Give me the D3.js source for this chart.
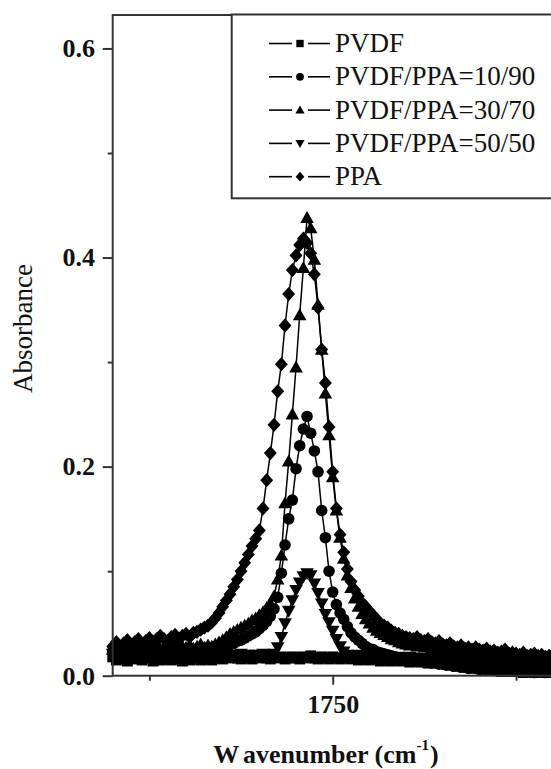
<!DOCTYPE html>
<html><head><meta charset="utf-8">
<script src="https://cdn.jsdelivr.net/npm/d3@7"></script>
<style>html,body{margin:0;padding:0;background:#fff;} svg{display:block}</style>
</head><body><svg id="chart" width="551" height="769"></svg>
<script>
// ---------- data ----------
const wavenumbers = [
1690,1691,1692,1693,1694,1695,1696,1697,1698,1699,
1700,1701,1702,1703,1704,1705,1706,1707,1708,1709,
1710,1711,1712,1713,1714,1715,1716,1717,1718,1719,
1720,1721,1722,1723,1724,1725,1726,1727,1728,1729,
1730,1731,1732,1733,1734,1735,1736,1737,1738,1739,
1740,1741,1742,1743,1744,1745,1746,1747,1748,1749,
1750,1751,1752,1753,1754,1755,1756,1757,1758,1759,
1760,1761,1762,1763,1764,1765,1766,1767,1768,1769,
1770,1771,1772,1773,1774,1775,1776,1777,1778,1779,
1780,1781,1782,1783,1784,1785,1786,1787,1788,1789,
1790,1791,1792,1793,1794,1795,1796,1797,1798,1799,
1800,1801,1802,1803,1804,1805,1806,1807,1808,1809,1810];

const seriesNames = ["PVDF", "PVDF/PPA=10/90", "PVDF/PPA=30/70", "PVDF/PPA=50/50", "PPA"];
const seriesSymbols = ["square", "circle", "triangleUp", "triangleDown", "diamond"];

const absPVDF = [
0.018,0.015,0.019,0.016,0.014,0.018,0.016,0.019,0.015,0.018,
0.017,0.014,0.018,0.015,0.019,0.016,0.015,0.018,0.016,0.014,
0.018,0.015,0.017,0.019,0.015,0.018,0.016,0.015,0.018,0.017,
0.016,0.018,0.017,0.019,0.017,0.016,0.018,0.017,0.016,0.018,
0.017,0.019,0.017,0.016,0.018,0.017,0.018,0.016,0.017,0.018,
0.017,0.016,0.018,0.017,0.019,0.017,0.016,0.018,0.017,0.016,
0.018,0.017,0.016,0.017,0.018,0.016,0.017,0.015,0.017,0.016,
0.015,0.017,0.016,0.014,0.016,0.015,0.014,0.016,0.015,0.014,
0.015,0.013,0.014,0.015,0.013,0.014,0.012,0.014,0.013,0.012,
0.013,0.011,0.012,0.010,0.011,0.009,0.010,0.008,0.009,0.007,
0.008,0.006,0.007,0.005,0.006,0.005,0.004,0.006,0.005,0.004,
0.005,0.004,0.003,0.005,0.004,0.003,0.004,0.005,0.003,0.004,0.003];

const abs10_90 = [
0.023,0.026,0.021,0.024,0.027,0.022,0.025,0.021,0.024,0.023,
0.026,0.022,0.027,0.024,0.021,0.025,0.023,0.027,0.022,0.025,
0.024,0.026,0.025,0.023,0.026,0.025,0.027,0.026,0.028,0.027,
0.027,0.028,0.030,0.031,0.033,0.034,0.036,0.038,0.040,0.042,
0.045,0.048,0.052,0.057,0.064,0.075,0.098,0.125,0.150,0.168,
0.198,0.220,0.236,0.248,0.232,0.215,0.195,0.158,0.132,0.100,
0.080,0.068,0.060,0.054,0.047,0.041,0.037,0.034,0.031,0.028,
0.026,0.025,0.023,0.022,0.021,0.020,0.019,0.018,0.017,0.016,
0.017,0.015,0.016,0.014,0.015,0.013,0.014,0.012,0.013,0.011,
0.012,0.010,0.011,0.009,0.010,0.008,0.009,0.007,0.008,0.007,
0.006,0.008,0.006,0.007,0.005,0.006,0.005,0.007,0.005,0.006,
0.005,0.004,0.006,0.004,0.005,0.003,0.005,0.004,0.003,0.005,0.004];

const abs30_70 = [
0.025,0.028,0.023,0.026,0.029,0.024,0.027,0.023,0.026,0.029,
0.024,0.027,0.030,0.025,0.028,0.024,0.027,0.030,0.025,0.028,
0.027,0.029,0.026,0.028,0.030,0.027,0.029,0.028,0.030,0.032,
0.034,0.037,0.040,0.042,0.044,0.046,0.048,0.050,0.053,0.055,
0.058,0.061,0.065,0.069,0.076,0.092,0.115,0.165,0.205,0.250,
0.295,0.345,0.390,0.438,0.428,0.398,0.355,0.312,0.270,0.230,
0.190,0.158,0.132,0.112,0.096,0.084,0.074,0.066,0.059,0.054,
0.050,0.046,0.043,0.041,0.039,0.037,0.035,0.034,0.032,0.031,
0.030,0.029,0.031,0.028,0.029,0.027,0.028,0.026,0.027,0.025,
0.026,0.024,0.025,0.023,0.024,0.022,0.023,0.021,0.022,0.020,
0.021,0.019,0.020,0.018,0.019,0.017,0.018,0.016,0.017,0.016,
0.015,0.016,0.014,0.015,0.013,0.014,0.012,0.013,0.012,0.011,0.012];

const abs50_50 = [
0.021,0.018,0.022,0.020,0.017,0.021,0.023,0.018,0.021,0.020,
0.022,0.018,0.021,0.023,0.020,0.017,0.021,0.022,0.018,0.021,
0.020,0.022,0.019,0.021,0.020,0.018,0.021,0.019,0.020,0.022,
0.019,0.021,0.020,0.018,0.020,0.021,0.019,0.020,0.018,0.020,
0.019,0.021,0.020,0.019,0.021,0.027,0.037,0.050,0.062,0.072,
0.082,0.089,0.095,0.098,0.096,0.088,0.079,0.069,0.059,0.051,
0.043,0.035,0.028,0.023,0.020,0.019,0.018,0.020,0.017,0.019,
0.018,0.017,0.019,0.018,0.016,0.018,0.017,0.016,0.018,0.017,
0.016,0.018,0.017,0.015,0.017,0.016,0.015,0.017,0.016,0.015,
0.016,0.014,0.015,0.016,0.014,0.015,0.013,0.015,0.014,0.013,
0.014,0.012,0.013,0.014,0.012,0.013,0.011,0.013,0.012,0.011,
0.012,0.011,0.013,0.011,0.010,0.012,0.011,0.010,0.012,0.011,0.010];

const absPPA = [
0.028,0.032,0.027,0.031,0.034,0.029,0.032,0.035,0.030,0.033,
0.036,0.032,0.035,0.038,0.035,0.033,0.037,0.039,0.035,0.038,
0.040,0.037,0.041,0.042,0.044,0.046,0.048,0.051,0.055,0.060,
0.066,0.072,0.078,0.085,0.092,0.100,0.108,0.116,0.124,0.131,
0.139,0.160,0.187,0.213,0.240,0.272,0.298,0.335,0.365,0.388,
0.402,0.412,0.418,0.414,0.404,0.384,0.352,0.312,0.280,0.238,
0.195,0.160,0.135,0.118,0.102,0.090,0.082,0.076,0.070,0.066,
0.062,0.058,0.054,0.050,0.048,0.046,0.043,0.041,0.040,0.038,
0.037,0.036,0.035,0.037,0.034,0.033,0.035,0.032,0.031,0.033,
0.030,0.029,0.031,0.028,0.027,0.029,0.026,0.027,0.025,0.027,
0.025,0.024,0.026,0.023,0.024,0.022,0.023,0.025,0.021,0.022,
0.021,0.020,0.022,0.019,0.020,0.021,0.019,0.020,0.018,0.019,0.020];

const seriesValues = [absPVDF, abs10_90, abs30_70, abs50_50, absPPA];

const yMajorTicks = [0.0, 0.2, 0.4, 0.6];
const yMinorTicks = [0.1, 0.3, 0.5];
const xMajorTicks = [1750];
const xMinorTicks = [1700, 1800];

// ---------- layout ----------
const svg = d3.select("#chart");
const serif = "'Liberation Serif','Times New Roman',Times,serif";
const L = 112.7, R = 552.7, T = 15, B = 675.7;
const x = d3.scaleLinear().domain([1690, 1810]).range([L, R]);
const y = d3.scaleLinear().domain([0, 0.632]).range([B, T]);
const frameColor = "#333";

function markerPath(type, r) {
  switch (type) {
    case "square": { const s = r * 0.8; return `M${-s},${-s}H${s}V${s}H${-s}Z`; }
    case "circle": { const c = r * 0.85; return `M${c},0A${c},${c} 0 1,1 ${-c},0A${c},${c} 0 1,1 ${c},0Z`; }
    case "triangleUp": return `M0,${-r}L${r},${r * 0.75}L${-r},${r * 0.75}Z`;
    case "triangleDown": return `M0,${r}L${r},${-r * 0.75}L${-r},${-r * 0.75}Z`;
    case "diamond": return `M0,${-r * 1.05}L${r * 0.95},0L0,${r * 1.05}L${-r * 0.95},0Z`;
  }
}

// data
const line = d3.line().x(d => x(d[0])).y(d => y(d[1]));
seriesValues.forEach((vals, si) => {
  const pts = wavenumbers.map((w, i) => [w, vals[i]]);
  const g = svg.append("g").attr("class", "series");
  g.append("path").attr("d", line(pts)).attr("fill", "none")
    .attr("stroke", "#000").attr("stroke-width", 1.5);
  g.selectAll("path.m").data(pts).enter().append("path").attr("class", "m")
    .attr("transform", d => `translate(${x(d[0])},${y(d[1])})`)
    .attr("d", markerPath(seriesSymbols[si], 6.8))
    .attr("fill", "#000");
});

// frame
svg.append("rect").attr("x", L).attr("y", T).attr("width", R - L).attr("height", B - T)
  .attr("fill", "none").attr("stroke", frameColor).attr("stroke-width", 2);

// axes
function styleAxis(g) {
  g.select(".domain").remove();
  g.selectAll(".tick line").attr("stroke", frameColor).attr("stroke-width", 2);
  g.selectAll(".tick text").attr("fill", "#111").style("font-family", serif)
    .style("font-size", "26px").style("font-weight", "bold");
}
svg.append("g").attr("transform", `translate(${L},0)`)
  .call(d3.axisLeft(y).tickValues(yMajorTicks).tickFormat(d3.format(".1f")).tickSize(10).tickPadding(7.7))
  .call(styleAxis);
svg.append("g").attr("transform", `translate(${L},0)`)
  .call(d3.axisLeft(y).tickValues(yMinorTicks).tickFormat("").tickSize(5))
  .call(styleAxis);
svg.append("g").attr("transform", `translate(0,${B})`)
  .call(d3.axisBottom(x).tickValues(xMajorTicks).tickFormat(d3.format("d")).tickSize(9).tickPadding(9.8))
  .call(styleAxis);
svg.append("g").attr("transform", `translate(0,${B})`)
  .call(d3.axisBottom(x).tickValues(xMinorTicks).tickFormat("").tickSize(5))
  .call(styleAxis);

// axis titles
svg.append("text").attr("transform", "translate(31.7,328.5) rotate(-90)")
  .attr("text-anchor", "middle").style("font-family", serif).style("font-size", "27px")
  .attr("fill", "#111").text("Absorbance");
const xt = svg.append("text").attr("x", 326).attr("y", 762.7).attr("text-anchor", "middle")
  .style("font-family", serif).style("font-size", "26px").style("font-weight", "bold").attr("fill", "#111");
xt.append("tspan").text("W");
xt.append("tspan").attr("dx", 5).text("avenumber (cm");
xt.append("tspan").attr("dy", -13).style("font-size", "15px").text("-1");
xt.append("tspan").attr("dy", 13).attr("dx", 1).text(")");

// legend
svg.append("rect").attr("x", 231.7).attr("y", 14.5).attr("width", 340).attr("height", 183.8)
  .attr("fill", "#fff").attr("stroke", frameColor).attr("stroke-width", 2);
seriesNames.forEach((name, i) => {
  const cy = 43.5 + i * 33.3;
  const g = svg.append("g");
  g.append("line").attr("x1", 269).attr("x2", 292).attr("y1", cy).attr("y2", cy)
    .attr("stroke", "#000").attr("stroke-width", 1.6);
  g.append("line").attr("x1", 308).attr("x2", 330).attr("y1", cy).attr("y2", cy)
    .attr("stroke", "#000").attr("stroke-width", 1.6);
  g.append("path").attr("transform", `translate(300,${cy})`)
    .attr("d", markerPath(seriesSymbols[i], 4.6)).attr("fill", "#000");
  g.append("text").attr("x", 335).attr("y", cy + 8.5)
    .style("font-family", serif).style("font-size", "27px").attr("fill", "#111").text(name);
});
</script>
</body></html>
